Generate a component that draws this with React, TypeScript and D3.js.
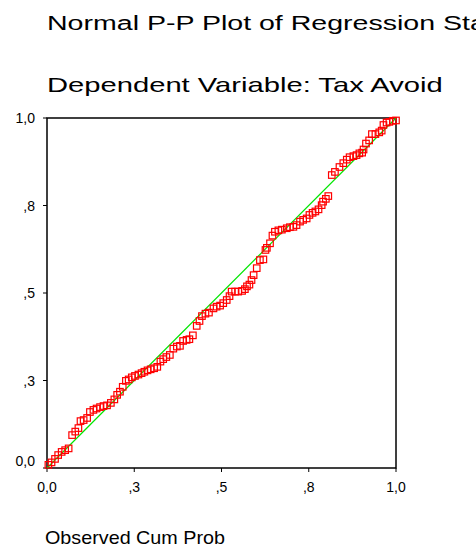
import React from 'react';
import * as d3 from 'd3';

// Observed vs expected cumulative probabilities
const observedCumProb = [
  0.004, 0.013, 0.023, 0.032, 0.042, 0.052, 0.062, 0.072, 0.081, 0.090, 0.096, 0.105, 0.115,
  0.123, 0.133, 0.142, 0.152, 0.162, 0.172, 0.183, 0.193, 0.201, 0.209, 0.217, 0.226, 0.234,
  0.243, 0.252, 0.262, 0.271, 0.279, 0.288, 0.297, 0.307, 0.316, 0.325, 0.333, 0.342, 0.352,
  0.362, 0.372, 0.381, 0.390, 0.400, 0.408, 0.418, 0.429, 0.437, 0.444, 0.454,
  0.464, 0.477, 0.486, 0.496, 0.505, 0.515, 0.523, 0.529, 0.539, 0.548, 0.559, 0.567, 0.573,
  0.580, 0.586, 0.592, 0.601, 0.610, 0.620, 0.626, 0.630, 0.639, 0.646, 0.653, 0.663, 0.673,
  0.687, 0.696, 0.706, 0.715, 0.725, 0.734, 0.744, 0.752, 0.761, 0.769, 0.778, 0.787, 0.791,
  0.799, 0.806,
  0.816, 0.825, 0.838, 0.849, 0.859, 0.867, 0.878, 0.887, 0.895, 0.903, 0.907, 0.914, 0.923,
  0.931, 0.941, 0.952, 0.959, 0.964, 0.973, 0.981, 0.991, 1.0,
];

const expectedCumProb = [
  0.009, 0.016, 0.026, 0.037, 0.046, 0.051, 0.056, 0.094, 0.104, 0.114, 0.134, 0.137, 0.143,
  0.160, 0.166, 0.170, 0.174, 0.177, 0.179, 0.186, 0.196, 0.209, 0.218, 0.232, 0.249, 0.253,
  0.259, 0.263, 0.267, 0.271, 0.275, 0.279, 0.282, 0.285, 0.289, 0.304, 0.311, 0.317, 0.323,
  0.341, 0.347, 0.349, 0.363, 0.366, 0.368, 0.379, 0.406, 0.420, 0.434, 0.441,
  0.444, 0.456, 0.461, 0.464, 0.471, 0.480, 0.491, 0.504, 0.504, 0.504, 0.506, 0.511, 0.519,
  0.524, 0.537, 0.551, 0.571, 0.594, 0.596, 0.623, 0.629, 0.642, 0.664, 0.675, 0.679, 0.681,
  0.685, 0.688, 0.689, 0.694, 0.704, 0.709, 0.713, 0.723, 0.729, 0.733, 0.739, 0.751, 0.761,
  0.769, 0.777,
  0.837, 0.846, 0.860, 0.871, 0.881, 0.888, 0.891, 0.894, 0.899, 0.901, 0.910, 0.927, 0.936,
  0.954, 0.954, 0.959, 0.964, 0.980, 0.987, 0.989, 0.992, 0.993,
];

const tickValues = [0, 0.25, 0.5, 0.75, 1];
const tickLabels = ['0,0', ',3', ',5', ',8', '1,0'];

const titleLines = [
  'Normal P-P Plot of Regression Standardized Residual',
  'Dependent Variable: Tax Avoid',
];
const xTitle = 'Observed Cum Prob';

const font = "'Liberation Sans', Arial, Helvetica, sans-serif";

export default function App() {
  const width = 476;
  const height = 547;
  const plot = { left: 47, right: 396, top: 118, bottom: 468 };

  const x = d3.scaleLinear().domain([0, 1]).range([plot.left, plot.right]);
  const y = d3.scaleLinear().domain([0, 1]).range([plot.bottom, plot.top]);

  const points = observedCumProb.map((o, i) => ({ o, e: expectedCumProb[i] }));
  const diagonal = d3.line<number>().x(d => x(d)).y(d => y(d));
  const m = 6.5; // marker size

  return (
    <svg
      width={width}
      height={height}
      style={{ position: 'absolute', left: 0, top: 0, background: '#fff' }}
      fontFamily={font}
    >
      {/* Titles (the first one runs off the right edge, as in the original) */}
      <text transform={`translate(47,30) scale(1.36,1)`} fontSize={21} fill="#000">
        {titleLines[0]}
      </text>
      <text transform={`translate(47,92) scale(1.39,1)`} fontSize={21} fill="#000">
        {titleLines[1]}
      </text>

      {/* Frame */}
      <rect
        x={plot.left}
        y={plot.top}
        width={plot.right - plot.left}
        height={plot.bottom - plot.top}
        fill="none"
        stroke="#000"
        strokeWidth={1.5}
      />

      {/* Y ticks */}
      {tickValues.map((v, i) => (
        <g key={`y${i}`}>
          <line x1={plot.left - 4} x2={plot.left} y1={y(v)} y2={y(v)} stroke="#000" strokeWidth={1} />
          <text x={35} y={i === 0 ? y(v) - 2 : y(v) + 5} textAnchor="end" fontSize={14} fill="#000">
            {tickLabels[i]}
          </text>
        </g>
      ))}

      {/* X ticks */}
      {tickValues.map((v, i) => (
        <g key={`x${i}`}>
          <line x1={x(v)} x2={x(v)} y1={plot.bottom} y2={plot.bottom + 4} stroke="#000" strokeWidth={1} />
          <text x={x(v)} y={492} textAnchor="middle" fontSize={14} fill="#000">
            {tickLabels[i]}
          </text>
        </g>
      ))}

      {/* Reference line */}
      <path d={diagonal([0, 1]) || ''} fill="none" stroke="#00e600" strokeWidth={1.2} />

      {/* Points */}
      {points.map((p, i) => (
        <rect
          key={i}
          x={x(p.o) - m / 2}
          y={y(p.e) - m / 2}
          width={m}
          height={m}
          fill="none"
          stroke="#ff0000"
          strokeWidth={1.2}
        />
      ))}

      {/* X axis title */}
      <text x={45} y={544} fontSize={19} textLength={180} lengthAdjust="spacingAndGlyphs" fill="#000">
        {xTitle}
      </text>
    </svg>
  );
}
